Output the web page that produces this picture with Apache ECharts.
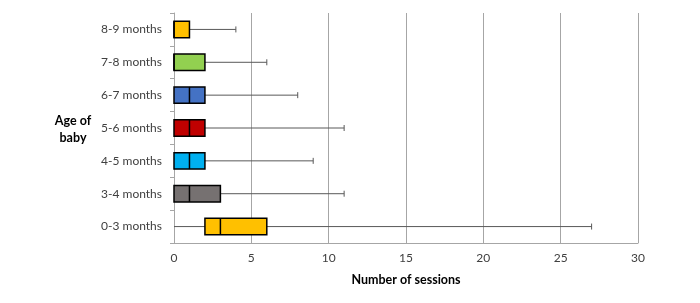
<!DOCTYPE html>
<html>
<head>
<meta charset="utf-8">
<script src="https://cdn.jsdelivr.net/npm/echarts@6/dist/echarts.min.js"></script>
<style>
  html, body { margin: 0; padding: 0; background: #fff; }
  #chart { width: 700px; height: 303px; }
</style>
</head>
<body>
<div id="chart"></div>
<script>
// categories from bottom to top (category axis starts at the bottom)
const ageGroups = ['0-3 months', '3-4 months', '4-5 months', '5-6 months', '6-7 months', '7-8 months', '8-9 months'];

// five-number summaries per group
const minValues    = [0, 0, 0, 0, 0, 0, 0];
const q1Values     = [2, 0, 0, 0, 0, 0, 0];
const medianValues = [3, 1, 1, 1, 1, 0, 0];
const q3Values     = [6, 3, 2, 2, 2, 2, 1];
const maxValues    = [27, 11, 9, 11, 8, 6, 4];

const boxColors = ['#FFC000', '#767171', '#00B0F0', '#C00000', '#4472C4', '#92D050', '#FFC000'];

const xTicks = [0, 5, 10, 15, 20, 25, 30];

const chartDom = document.getElementById('chart');
const myChart = echarts.init(chartDom, null, {renderer: 'canvas'});

const boxData = ageGroups.map((name, i) => [i, minValues[i], q1Values[i], medianValues[i], q3Values[i], maxValues[i]]);

function renderBox(params, api) {
    const cat = api.value(0);
    const band = api.size([0, 1])[1];
    const h = band * 0.5;
    const pMin = api.coord([api.value(1), cat]);
    const pQ1 = api.coord([api.value(2), cat]);
    const pMed = api.coord([api.value(3), cat]);
    const pQ3 = api.coord([api.value(4), cat]);
    const pMax = api.coord([api.value(5), cat]);
    const y = pMin[1];
    const capH = 6;
    const lineStyle = {stroke: '#595959', lineWidth: 1};
    return {
        type: 'group',
        children: [
            {type: 'line', shape: {x1: pMin[0], y1: y, x2: pQ1[0], y2: y}, style: lineStyle},
            {type: 'line', shape: {x1: pQ3[0], y1: y, x2: pMax[0], y2: y}, style: lineStyle},
            {type: 'line', shape: {x1: pMax[0], y1: y - capH / 2, x2: pMax[0], y2: y + capH / 2}, style: lineStyle},
            {
                type: 'rect',
                shape: {x: pQ1[0], y: y - h / 2, width: pQ3[0] - pQ1[0], height: h},
                style: {fill: boxColors[params.dataIndex], stroke: '#000', lineWidth: 1.5}
            },
            {
                type: 'line',
                shape: {x1: pMed[0], y1: y - h / 2, x2: pMed[0], y2: y + h / 2},
                style: {stroke: '#000', lineWidth: 1.5}
            }
        ]
    };
}

const option = {
    animation: false,
    textStyle: {fontFamily: 'Lato'},
    grid: {left: 174, right: 62, top: 13, bottom: 60},
    graphic: [{
        type: 'text',
        x: 73,
        y: 112,
        style: {
            text: 'Age of\nbaby',
            font: 'bold 12.5px Lato',
            fill: '#000',
            align: 'center',
            verticalAlign: 'top',
            lineHeight: 17
        }
    }],
    xAxis: {
        type: 'value',
        min: xTicks[0],
        max: xTicks[xTicks.length - 1],
        interval: 5,
        name: 'Number of sessions',
        nameLocation: 'middle',
        nameGap: 30,
        nameTextStyle: {fontWeight: 'bold', fontSize: 12.5, color: '#000', fontFamily: 'Lato'},
        axisLine: {show: true, lineStyle: {color: '#a6a6a6'}},
        axisTick: {show: false},
        axisLabel: {color: '#404040', fontSize: 12, margin: 9, fontFamily: 'Lato'},
        splitLine: {show: true, lineStyle: {color: '#a6a6a6', width: 1}}
    },
    yAxis: {
        type: 'category',
        data: ageGroups,
        axisLine: {show: true, lineStyle: {color: '#a6a6a6'}},
        axisTick: {show: true, length: 4, lineStyle: {color: '#a6a6a6'}},
        axisLabel: {color: '#404040', fontSize: 12, margin: 12, fontFamily: 'Lato'},
        splitLine: {show: false}
    },
    series: [{
        type: 'custom',
        renderItem: renderBox,
        encode: {x: [1, 2, 3, 4, 5], y: 0},
        data: boxData
    }]
};

myChart.setOption(option);
</script>
</body>
</html>
